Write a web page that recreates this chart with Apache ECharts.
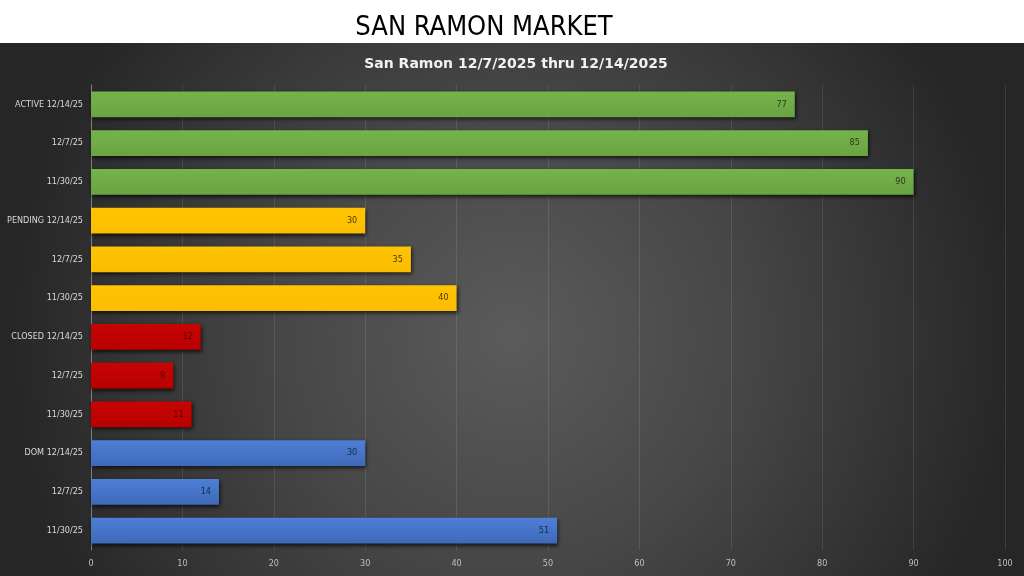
<!DOCTYPE html>
<html>
<head>
<meta charset="utf-8">
<script src="https://cdn.jsdelivr.net/npm/echarts@6/dist/echarts.min.js"></script>
<style>
    html, body {margin: 0; padding: 0; background: #fff;}
    #main {width: 1024px; height: 576px;}
</style>
</head>
<body>
<div id="main"></div>
<script>
const categories = [
    'ACTIVE 12/14/25', '12/7/25', '11/30/25',
    'PENDING 12/14/25', '12/7/25 ', '11/30/25 ',
    'CLOSED 12/14/25', '12/7/25  ', '11/30/25  ',
    'DOM 12/14/25', '12/7/25   ', '11/30/25   '
];
const values = [77, 85, 90, 30, 35, 40, 12, 9, 11, 30, 14, 51];
const groupOfBar = [0, 0, 0, 1, 1, 1, 2, 2, 2, 3, 3, 3];
const xTicks = [0, 100, 10]; // min, max, interval

// 每组的颜色 (上, 下)
const groupColors = [
    ['#76b34b', '#6aa342'],
    ['#ffc404', '#fbbd00'],
    ['#c80404', '#b80000'],
    ['#4d7fd6', '#3f69b8']
];
const labelColors = ['#2b3a1e', '#4a3a00', '#5a0000', '#15274a'];

const font = '"Liberation Sans Narrow", "DejaVu Sans Condensed", "Open Sans", sans-serif';

const chart = echarts.init(document.getElementById('main'));

const option = {
    backgroundColor: '#ffffff',
    animation: false,
    graphic: [
        {
            type: 'rect',
            z: -10,
            shape: {x: 0, y: 43, width: 1024, height: 533},
            style: {
                fill: new echarts.graphic.RadialGradient(0.5, 0.55, 0.95, [
                    {offset: 0, color: '#5b5b5b'},
                    {offset: 0.45, color: '#474747'},
                    {offset: 1, color: '#262626'}
                ])
            }
        }
    ],
    title: [
        {
            text: 'SAN RAMON MARKET',
            left: 479,
            top: 9,
            textAlign: 'center',
            textStyle: {color: '#000', fontSize: 27, fontWeight: 'normal', fontFamily: font}
        },
        {
            text: 'San Ramon 12/7/2025 thru 12/14/2025',
            left: 511,
            top: 52,
            textAlign: 'center',
            textStyle: {color: '#f2f2f2', fontSize: 14, fontWeight: 'bold', fontFamily: '"DejaVu Sans", sans-serif'}
        }
    ],
    grid: {left: 91, right: 19, top: 85, bottom: 26, containLabel: false},
    xAxis: {
        type: 'value',
        min: xTicks[0],
        max: xTicks[1],
        interval: xTicks[2],
        axisLine: {show: false},
        axisTick: {show: false},
        splitLine: {lineStyle: {color: 'rgba(255,255,255,0.1)', width: 1}},
        axisLabel: {color: '#bfbfbf', fontSize: 9, fontFamily: font, margin: 9}
    },
    yAxis: {
        type: 'category',
        inverse: true,
        data: categories,
        axisLine: {show: true, lineStyle: {color: '#7f7f7f'}},
        axisTick: {show: false},
        axisLabel: {
            color: '#d9d9d9', fontSize: 9, fontFamily: font, margin: 8,
            formatter: v => v.trim()
        }
    },
    series: [
        {
            type: 'bar',
            barCategoryGap: '33%',
            data: values.map((v, i) => {
                const g = groupOfBar[i];
                return {
                    value: v,
                    itemStyle: {
                        color: new echarts.graphic.LinearGradient(0, 0, 0, 1, [
                            {offset: 0, color: groupColors[g][0]},
                            {offset: 1, color: groupColors[g][1]}
                        ])
                    },
                    label: {color: labelColors[g]}
                };
            }),
            itemStyle: {
                shadowColor: 'rgba(0,0,0,0.7)',
                shadowBlur: 4,
                shadowOffsetX: 1,
                shadowOffsetY: 2
            },
            label: {
                show: true,
                position: 'insideRight',
                distance: 8,
                fontSize: 9,
                fontFamily: font
            }
        }
    ]
};

chart.setOption(option);
</script>
</body>
</html>
